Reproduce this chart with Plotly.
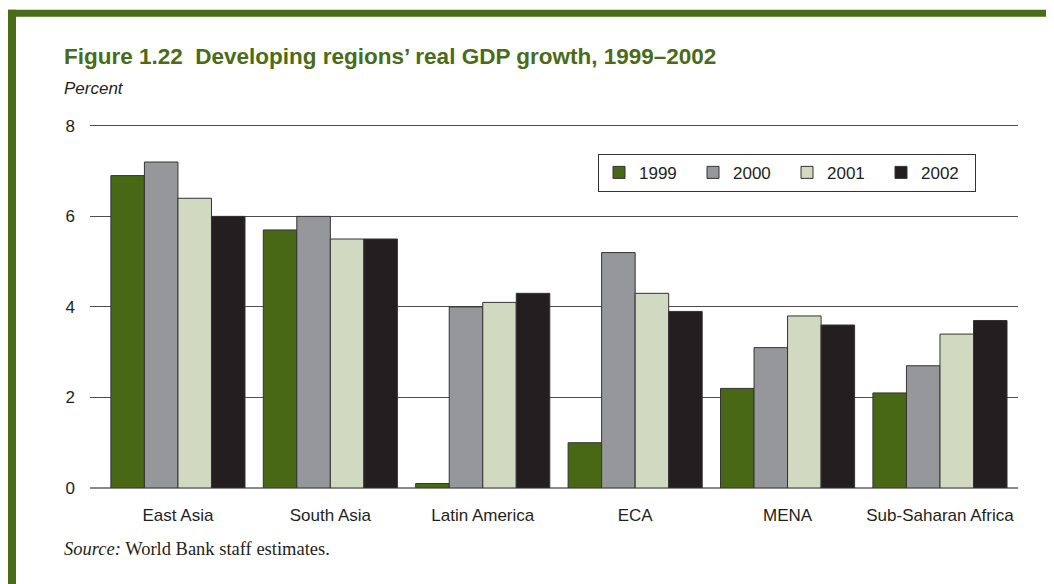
import plotly.graph_objects as go

regions = ["East Asia", "South Asia", "Latin America", "ECA", "MENA", "Sub-Saharan Africa"]
years = ["1999", "2000", "2001", "2002"]
growth_1999 = [6.9, 5.7, 0.1, 1.0, 2.2, 2.1]
growth_2000 = [7.2, 6.0, 4.0, 5.2, 3.1, 2.7]
growth_2001 = [6.4, 5.5, 4.1, 4.3, 3.8, 3.4]
growth_2002 = [6.0, 5.5, 4.3, 3.9, 3.6, 3.7]
y_ticks = [0, 2, 4, 6, 8]

series = [growth_1999, growth_2000, growth_2001, growth_2002]
colors = ["#486816", "#96979b", "#d1d9c1", "#231f20"]
green = "#4a6b17"
ink = "#231f20"

# the page body adds an 8px margin, so positions below are page pixels
OFF = 8
PAGE_W, PAGE_H = 1054, 584
Y_TOP = 8.04
L, R, B = 90, 1018, 488
T = B - 362 * Y_TOP / 8


def px_x(p):
    return (p - L) / (R - L)


def px_y(p):
    return (B - p) / (B - T)


fig = go.Figure()
for yr, vals, col in zip(years, series, colors):
    fig.add_trace(go.Bar(
        x=regions, y=vals, name=yr,
        marker=dict(color=col, line=dict(color="#333333", width=1)),
    ))

fig.update_layout(
    width=PAGE_W - OFF, height=PAGE_H - OFF,
    margin=dict(l=L - OFF, r=PAGE_W - R, t=T - OFF, b=PAGE_H - B),
    paper_bgcolor="white", plot_bgcolor="white",
    barmode="group", bargap=0.12, bargroupgap=0,
    font=dict(family="Liberation Sans, Arial, sans-serif", size=17, color=ink),
    showlegend=True,
    legend=dict(
        orientation="h", x=px_x(598), y=px_y(154), xanchor="left", yanchor="top",
        bordercolor="#333333", borderwidth=1, bgcolor="white",
        font=dict(size=17, color=ink), entrywidth=49, entrywidthmode="pixels",
        traceorder="normal",
    ),
)

fig.update_xaxes(
    range=[-0.577, 5.512], showgrid=False, showline=False, ticks="",
    tickfont=dict(size=17, color=ink), ticklabelstandoff=15,
)
fig.update_yaxes(
    range=[0, Y_TOP], tickvals=y_ticks, showgrid=True, gridcolor="#4d4d4d", gridwidth=1,
    zeroline=True, zerolinecolor="#8a8a8a", zerolinewidth=2, showline=False,
    ticks="", tickfont=dict(size=17, color=ink), ticklabelstandoff=14,
)

# green frame around the figure
fig.add_shape(type="rect", xref="paper", yref="paper", x0=px_x(8), x1=px_x(PAGE_W + 5),
              y0=px_y(17), y1=px_y(10), fillcolor=green, line_width=0, layer="above")
fig.add_shape(type="rect", xref="paper", yref="paper", x0=px_x(8), x1=px_x(16),
              y0=px_y(PAGE_H + 5), y1=px_y(10), fillcolor=green, line_width=0, layer="above")

fig.add_annotation(
    text="<b>Figure 1.22  Developing regions\u2019 real GDP growth, 1999\u20132002</b>",
    xref="paper", yref="paper", x=px_x(62), y=px_y(57), xanchor="left", yanchor="middle",
    showarrow=False, font=dict(size=22.5, color=green, family="Liberation Sans, Arial"),
)
fig.add_annotation(
    text="<i>Percent</i>", xref="paper", yref="paper", x=px_x(62), y=px_y(89),
    xanchor="left", yanchor="middle", showarrow=False, font=dict(size=17, color=ink),
)
fig.add_annotation(
    text="<i>Source:</i> World Bank staff estimates.", xref="paper", yref="paper",
    x=px_x(62), y=px_y(549), xanchor="left", yanchor="middle", showarrow=False,
    font=dict(size=18.5, color=ink, family="Liberation Serif, Times New Roman, serif"),
)

fig.write_html("out.html")
